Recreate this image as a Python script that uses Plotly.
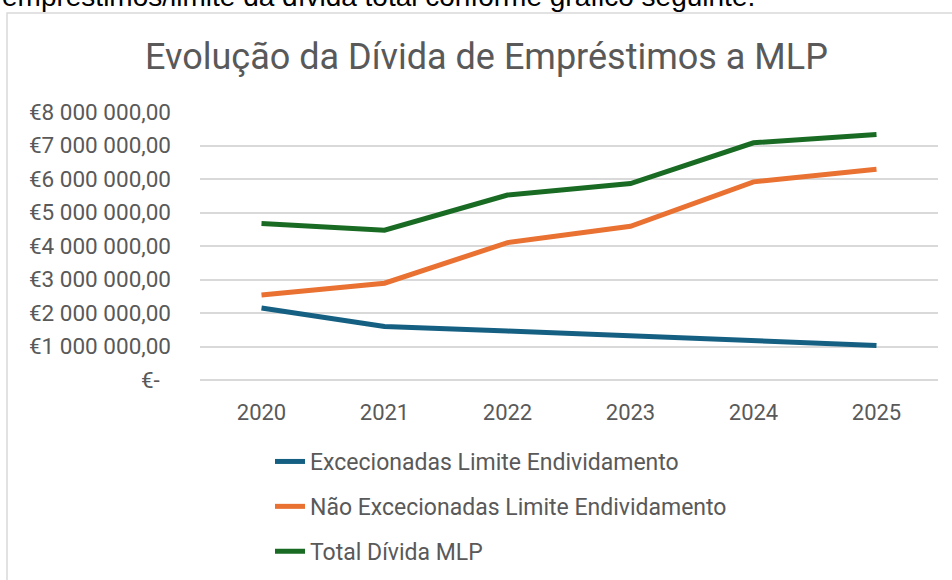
import plotly.graph_objects as go

years = ["2020", "2021", "2022", "2023", "2024", "2025"]
excecionadas = [2150000, 1600000, 1460000, 1320000, 1180000, 1030000]
nao_excecionadas = [2540000, 2890000, 4100000, 4590000, 5915000, 6290000]
total_divida = [4670000, 4470000, 5520000, 5865000, 7080000, 7325000]

series_names = ["Excecionadas Limite Endividamento",
                "Não Excecionadas Limite Endividamento",
                "Total Dívida MLP"]
series_colors = ["#156082", "#E97132", "#196B24"]

y_tickvals = [0, 1e6, 2e6, 3e6, 4e6, 5e6, 6e6, 7e6, 8e6]
y_ticktext = ["€-\u00a0\u00a0", "€1 000 000,00", "€2 000 000,00", "€3 000 000,00",
              "€4 000 000,00", "€5 000 000,00", "€6 000 000,00", "€7 000 000,00",
              "€8 000 000,00"]

W, H = 952, 580
L, R, T, B = 200, 14, 112, 200
PW, PH = W - L - R, H - T - B


def px(x):
    return (x - L) / PW


def py(y):
    return (H - B - y) / PH


fig = go.Figure()
for name, vals, col in zip(series_names, [excecionadas, nao_excecionadas, total_divida], series_colors):
    fig.add_trace(go.Scatter(x=years, y=vals, mode="lines", name=name,
                             legendgroup=name,
                             line=dict(color=col, width=5)))

FONT = "Roboto"
fig.update_layout(
    width=W, height=H,
    margin=dict(l=L, r=R, t=T, b=B, autoexpand=False),
    paper_bgcolor="white", plot_bgcolor="white",
    font=dict(family=FONT, color="#595959", size=22),
    showlegend=True,
    legend=dict(x=px(270), y=py(440), xanchor="left", yanchor="top",
                font=dict(family=FONT, size=23, color="#595959"),
                tracegroupgap=12, bgcolor="rgba(0,0,0,0)"),
    xaxis=dict(type="category", range=[-0.5, 5.5], showgrid=False, showline=False,
               zeroline=False, ticks="", ticklabelstandoff=17,
               tickfont=dict(family=FONT, size=22, color="#595959")),
    yaxis=dict(range=[0, 8e6], tickvals=y_tickvals, ticktext=y_ticktext,
               showgrid=True, gridcolor="#D9D9D9", gridwidth=1.5,
               zeroline=True, zerolinecolor="#D9D9D9", zerolinewidth=1.5,
               showline=False, ticks="", ticklabelstandoff=28,
               tickfont=dict(family=FONT, size=22.5, color="#595959")),
    shapes=[dict(type="rect", xref="paper", yref="paper",
                 x0=px(7), x1=px(1000), y0=py(700), y1=py(13),
                 line=dict(color="#D9D9D9", width=1.5), fillcolor="rgba(0,0,0,0)",
                 layer="below")],
    annotations=[
        dict(text="Evolução da Dívida de Empréstimos a MLP", xref="paper", yref="paper",
             x=px(486), y=py(57), xanchor="center", yanchor="middle", showarrow=False,
             font=dict(family=FONT, size=36, color="#595959")),
        dict(text="empréstimos/limite da dívida total conforme gráfico seguinte.",
             xref="paper", yref="paper", x=px(757), y=py(-4), xanchor="right",
             yanchor="middle", showarrow=False,
             font=dict(family="Liberation Sans", size=28, color="#000000")),
    ],
)

fig.write_html("out.html", config={"displayModeBar": False},
               post_script="document.body.style.margin='0';document.body.style.padding='0';")
